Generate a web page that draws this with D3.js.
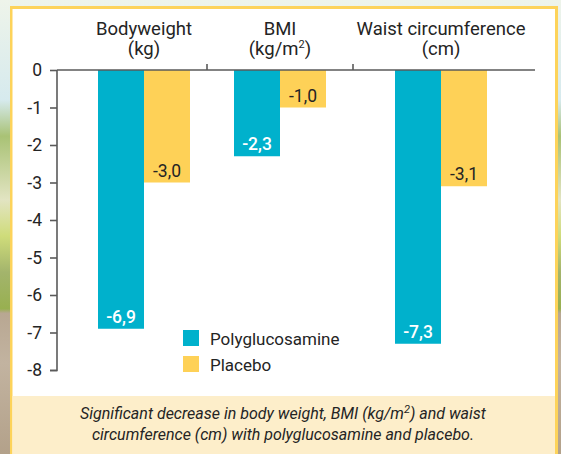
<!DOCTYPE html>
<html><head><meta charset="utf-8">
<script src="https://cdn.jsdelivr.net/npm/d3@7"></script>
<style>html,body{margin:0;padding:0;overflow:hidden;background:#fff}</style>
</head><body><div id="chart"></div>
<script>
// ---- data ----
const categories = ["Bodyweight", "BMI", "Waist circumference"];
const units = ["(kg)", "(kg/m2)", "(cm)"];
const series = ["Polyglucosamine", "Placebo"];
const polyValues = [-6.9, -2.3, -7.3];
const placeboValues = [-3.0, -1.0, -3.1];
const yTicks = [0, -1, -2, -3, -4, -5, -6, -7, -8];
const captionLines = ["Significant decrease in body weight, BMI (kg/m2) and waist", "circumference (cm) with polyglucosamine and placebo."];

const W = 561, H = 454;
const font = "Roboto, 'Noto Sans', sans-serif";
const txt = "#242424", axisCol = "#5a5a5a";
const colors = {Polyglucosamine: "#00b1cc", Placebo: "#fed157"};

const svg = d3.select("#chart").append("svg").attr("width", W).attr("height", H);
const defs = svg.append("defs");
const bgL = defs.append("linearGradient").attr("id", "bg").attr("x1", 0).attr("y1", 0).attr("x2", 0).attr("y2", 1);
[[0, "#eef4ea"], [0.22, "#d6eaee"], [0.30, "#a9c275"], [0.44, "#e2e4c2"], [0.52, "#cfdc7a"], [0.60, "#a3b46c"], [0.68, "#98b050"], [0.69, "#b8a792"], [0.8, "#c2b3a0"], [1, "#b3a18a"]]
  .forEach(([o, c]) => bgL.append("stop").attr("offset", o).attr("stop-color", c));
svg.append("rect").attr("width", W).attr("height", H).attr("fill", "url(#bg)");
// frame
svg.append("rect").attr("x", 10).attr("y", 6).attr("width", 548).attr("height", H).attr("fill", "#fdd35a");
svg.append("rect").attr("x", 12.5).attr("y", 9).attr("width", 542.5).attr("height", H).attr("fill", "#ffffff");
svg.append("rect").attr("x", 12.5).attr("y", 396).attr("width", 542.5).attr("height", H - 396).attr("fill", "#fdeeca");

// scales
const y = d3.scaleLinear().domain([0, -8]).range([70, 370]);
const xGroup = d3.scaleOrdinal().domain(categories).range([144, 280, 441]);
const xSeries = d3.scaleBand().domain(series).range([-46, 46]);

// y axis
const yAxis = d3.axisLeft(y).tickValues(yTicks).tickFormat(d => d3.format("d")(d).replace("−", "-")).tickSize(7).tickPadding(8);
const gy = svg.append("g").attr("transform", "translate(57,0)").call(yAxis);
gy.select(".domain").attr("stroke", axisCol).attr("stroke-width", 1.6).attr("d", "M-7,370.5H0V70");
gy.selectAll(".tick line").attr("stroke", axisCol).attr("stroke-width", 1.6);
gy.selectAll(".tick text").attr("font-family", font).attr("font-size", 17.5).attr("fill", txt);

// bars
const rows = categories.map((c, i) => ({cat: c, vals: [polyValues[i], placeboValues[i]]}));
const groups = svg.selectAll(".grp").data(rows).enter().append("g")
  .attr("transform", d => `translate(${xGroup(d.cat)},0)`);
groups.selectAll("rect").data(d => d.vals.map((v, j) => ({s: series[j], v})))
  .enter().append("rect")
  .attr("x", d => xSeries(d.s)).attr("width", xSeries.bandwidth())
  .attr("y", y(0)).attr("height", d => y(d.v) - y(0))
  .attr("fill", d => colors[d.s]);
groups.selectAll("text.val").data(d => d.vals.map((v, j) => ({s: series[j], v})))
  .enter().append("text").attr("class", "val")
  .attr("x", d => xSeries(d.s) + xSeries.bandwidth() / 2)
  .attr("y", d => y(d.v) - 6)
  .attr("text-anchor", "middle").attr("font-family", font).attr("font-size", 17.5)
  .attr("font-weight", d => d.s === "Polyglucosamine" ? 500 : 400)
  .attr("fill", d => d.s === "Polyglucosamine" ? "#ffffff" : txt)
  .text(d => d3.format(".1f")(d.v).replace("−", "-").replace(".", ","));

// top axis line with separators
svg.append("line").attr("x1", 57).attr("x2", 535).attr("y1", 70).attr("y2", 70).attr("stroke", axisCol).attr("stroke-width", 1.6);
const seps = [(xGroup(categories[0]) + xGroup(categories[1])) / 2 - 5, (xGroup(categories[1]) + xGroup(categories[2])) / 2 - 7.5];
svg.selectAll(".sep").data(seps).enter().append("line")
  .attr("x1", d => d).attr("x2", d => d).attr("y1", 64).attr("y2", 70).attr("stroke", axisCol).attr("stroke-width", 1.6);

// headers
categories.forEach((c, i) => {
  const cx = xGroup(c);
  svg.append("text").attr("x", cx).attr("y", 35).attr("text-anchor", "middle")
    .attr("font-family", font).attr("font-size", 18.5).attr("fill", txt).text(c);
  const t = svg.append("text").attr("x", cx).attr("y", 55).attr("text-anchor", "middle")
    .attr("font-family", font).attr("font-size", 18.5).attr("fill", txt);
  const u = units[i];
  if (u.includes("m2")) {
    t.append("tspan").text(u.replace("m2)", "m"));
    t.append("tspan").attr("font-size", 11).attr("dy", -7).text("2");
    t.append("tspan").attr("dy", 7).text(")");
  } else t.text(u);
});

// legend
const lg = svg.selectAll(".lg").data(series).enter().append("g")
  .attr("transform", (d, i) => `translate(183,${330 + i * 26})`);
lg.append("rect").attr("width", 16).attr("height", 16).attr("fill", d => colors[d]);
lg.append("text").attr("x", 27).attr("y", 14.5).attr("font-family", font).attr("font-size", 17).attr("fill", txt).text(d => d);

// caption
captionLines.forEach((line, i) => {
  const t = svg.append("text").attr("x", 283).attr("y", 419 + i * 21).attr("text-anchor", "middle")
    .attr("font-family", font).attr("font-style", "italic").attr("font-size", 16).attr("fill", txt);
  if (line.includes("m2)")) {
    const [a, b] = line.split("m2)");
    t.append("tspan").text(a + "m");
    t.append("tspan").attr("font-size", 11).attr("dy", -6).text("2");
    t.append("tspan").attr("dy", 6).text(")" + b);
  } else t.text(line);
});
</script></body></html>
